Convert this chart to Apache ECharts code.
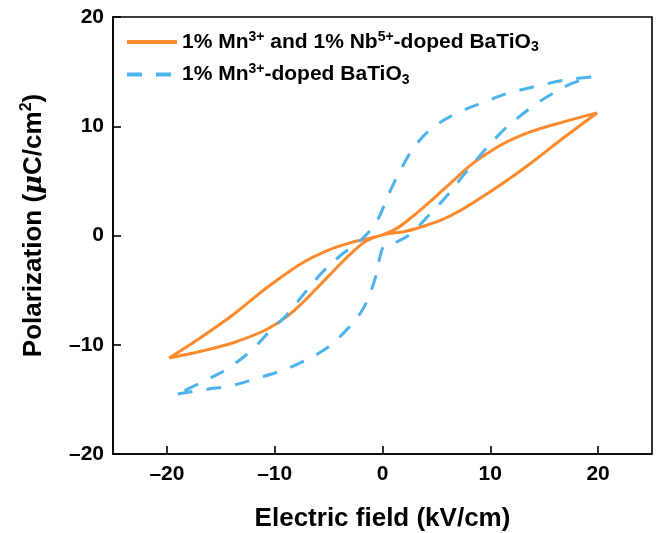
<!DOCTYPE html>
<html>
<head>
<meta charset="utf-8">
<script src="https://cdn.jsdelivr.net/npm/echarts@6/dist/echarts.min.js"></script>
<style>
  html, body { margin: 0; padding: 0; background: #fff; }
  #hysteresis { width: 661px; height: 533px; }
</style>
</head>
<body>
<div id="hysteresis"></div>
<script>
// loop data, [E (kV/cm), P (uC/cm2)], going round the loop
var mnNbLoop = [
  [-19.8, -11.22], [-16.85, -10.6], [-13.77, -9.79], [-10.68, -8.56], [-8.2, -6.88],
  [-5.12, -3.83], [-2.96, -1.68], [-1.42, -0.46], [0.43, 0.15], [1.97, 0.35],
  [3.5, 0.76], [5.37, 1.38], [7.5, 2.45], [9.7, 3.82], [12.2, 5.5],
  [14.3, 7.03], [16.8, 8.95], [19.9, 11.22],
  [16.8, 10.4], [13.7, 9.48], [11.2, 8.4], [9.7, 7.5], [8.15, 6.42],
  [6.6, 5.05], [5.2, 3.8], [4.0, 2.75], [2.8, 1.75], [1.4, 0.7],
  [0.0, 0.05], [-1.6, -0.35], [-2.96, -0.65], [-5.12, -1.38], [-7.6, -2.6],
  [-10.68, -4.74], [-13.77, -7.18], [-16.85, -9.33], [-19.8, -11.22]
];
var mnLoop = [
  [-19.0, -14.5], [-16.2, -14.07], [-14.07, -13.76], [-11.9, -13.15], [-9.44, -12.4],
  [-7.3, -11.5], [-5.1, -10.25], [-3.12, -8.41], [-1.73, -6.58], [-0.65, -3.83],
  [-0.2, -1.8], [0.15, -0.95], [0.8, -0.8], [1.5, -0.5], [2.6, 0.15],
  [4.44, 1.99], [6.14, 3.82], [7.5, 5.5], [9.07, 7.34], [10.9, 9.33],
  [12.47, 10.7], [14.3, 12.08], [15.8, 13.0], [17.4, 13.85], [19.4, 14.52],
  [16.8, 14.2], [14.3, 13.67], [11.55, 13.0], [9.4, 12.2], [6.9, 11.2],
  [4.75, 9.94], [3.06, 8.26], [1.82, 6.27], [0.59, 3.82], [-0.49, 1.38],
  [-1.88, -0.3], [-3.89, -1.83], [-5.58, -3.37], [-7.3, -5.35], [-8.8, -7.18],
  [-10.4, -8.7], [-12.2, -10.55], [-14.4, -12.2], [-16.2, -13.15], [-19.0, -14.5]
];
var xTicks = [-20, -10, 0, 10, 20];
var seriesNames = ['mnNb', 'mn'];

var font = 'Liberation Sans, Arial, sans-serif';
var dash = function (v) { return String(v).replace('-', '\u2013'); };

var myChart = echarts.init(document.getElementById('hysteresis'), null, { renderer: 'canvas' });

var option = {
  animation: false,
  backgroundColor: '#fff',
  grid: {
    left: 113, right: 9, top: 17, bottom: 79,
    outerBoundsMode: 'none',
    show: true, borderColor: '#000', borderWidth: 1.6
  },
  legend: {
    orient: 'vertical',
    left: 120, top: 25,
    itemWidth: 50, itemHeight: 14, itemGap: 8,
    data: seriesNames,
    itemStyle: { opacity: 0 },
    lineStyle: { width: 4 },
    formatter: function (name) {
      if (name === 'mnNb') return '1% Mn{sup|3+} and 1% Nb{sup|5+}-doped BaTiO{sub|3}';
      return '1% Mn{sup|3+}-doped BaTiO{sub|3}';
    },
    textStyle: {
      fontFamily: font, fontWeight: 'bold', fontSize: 21, color: '#000',
      rich: {
        sup: { fontFamily: font, fontWeight: 'bold', fontSize: 14, color: '#000', padding: [0, 0, 10, 0] },
        sub: { fontFamily: font, fontWeight: 'bold', fontSize: 14, color: '#000', padding: [11, 0, 0, 0] }
      }
    }
  },
  xAxis: {
    type: 'value',
    min: -25, max: 25,
    name: 'Electric field (kV/cm)',
    nameLocation: 'middle', nameGap: 52,
    nameTextStyle: { fontFamily: font, fontWeight: 'bold', fontSize: 26, color: '#000' },
    axisLine: { onZero: false, lineStyle: { color: '#000', width: 1.6 } },
    axisTick: { inside: true, length: 8, customValues: xTicks, lineStyle: { color: '#000', width: 1.6 } },
    axisLabel: {
      customValues: xTicks, margin: 10,
      fontFamily: font, fontWeight: 'bold', fontSize: 21, color: '#000',
      formatter: dash
    },
    splitLine: { show: false }
  },
  yAxis: {
    type: 'value',
    min: -20, max: 20, interval: 10,
    name: 'Polarization ({mu|\u03bc}C/cm{sup|2})',
    nameLocation: 'middle', nameGap: 64, nameRotate: 90,
    nameTextStyle: {
      fontFamily: font, fontWeight: 'bold', fontSize: 26, color: '#000',
      padding: [0, 0, 0, 20],
      rich: {
        mu: { fontFamily: 'DejaVu Serif, serif', fontStyle: 'italic', fontSize: 26, color: '#000' },
        sup: { fontFamily: font, fontWeight: 'bold', fontSize: 16, color: '#000', padding: [0, 0, 14, 0] }
      }
    },
    axisLine: { onZero: false, lineStyle: { color: '#000', width: 1.6 } },
    axisTick: { inside: true, length: 8, lineStyle: { color: '#000', width: 1.6 } },
    axisLabel: {
      margin: 9,
      fontFamily: font, fontWeight: 'bold', fontSize: 21, color: '#000',
      formatter: dash
    },
    splitLine: { show: false }
  },
  series: [
    {
      name: 'mnNb',
      type: 'line',
      data: mnNbLoop,
      smooth: 0.35,
      symbol: 'none',
      color: '#FC8A2C',
      lineStyle: { color: '#FC8A2C', width: 3 }
    },
    {
      name: 'mn',
      type: 'line',
      data: mnLoop,
      smooth: 0.35,
      symbol: 'none',
      color: '#4EB3EC',
      lineStyle: { color: '#4EB3EC', width: 3, type: [15, 14] }
    }
  ]
};

myChart.setOption(option);
</script>
</body>
</html>
